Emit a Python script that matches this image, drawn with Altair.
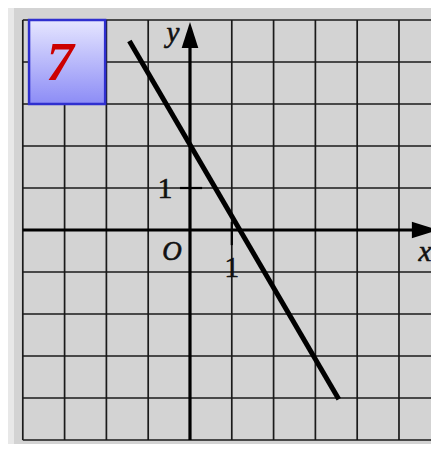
import altair as alt
import pandas as pd

# ---- data ----
grid_x = [-4, -3, -2, -1, 1, 2, 3, 4, 5]          # vertical grid lines
grid_y = [-5, -4, -3, -2, -1, 1, 2, 3, 4, 5]      # horizontal grid lines
line_x = [-1.45, 3.56]                            # the plotted straight line
line_y = [4.5, -4.03]
label_text = ["y", "x", "O"]
label_x = [-0.41, 5.62, -0.43]
label_y = [4.7, -0.52, -0.53]
label_size = [29, 29, 27]
tick_text = ["1", "1"]
tick_lx = [-0.6, 1.0]
tick_ly = [0.97, -0.9]
badge_text = ["7"]

# domains chosen so that one unit = one grid cell
XMIN, XMAX = -4.354, 5.766
YMIN, YMAX = -5.095, 5.286
W, H = 423, 436

xs = alt.Scale(domain=[XMIN, XMAX], nice=False, zero=False)
ys = alt.Scale(domain=[YMIN, YMAX], nice=False, zero=False)
X = lambda f: alt.X(f, type="quantitative", scale=xs, axis=None)
Y = lambda f: alt.Y(f, type="quantitative", scale=ys, axis=None)

# gray panel
panel = alt.Chart(pd.DataFrame({"x": [-4.21], "x2": [XMAX + 1], "y": [YMIN - 1], "y2": [YMAX + 1]})).mark_rect(
    color="#d3d3d3"
).encode(x=X("x"), x2="x2", y=Y("y"), y2="y2")

vgrid = alt.Chart(pd.DataFrame({"x": grid_x, "y": [-5] * len(grid_x), "y2": [5] * len(grid_x)})).mark_rule(
    color="#1a1a1a", strokeWidth=1.7
).encode(x=X("x"), y=Y("y"), y2="y2")

hgrid = alt.Chart(pd.DataFrame({"y": grid_y, "x": [-4] * len(grid_y), "x2": [XMAX + 1] * len(grid_y)})).mark_rule(
    color="#1a1a1a", strokeWidth=1.7
).encode(y=Y("y"), x=X("x"), x2="x2")

# axes
xaxis = alt.Chart(pd.DataFrame({"y": [0], "x": [-4], "x2": [5.5]})).mark_rule(
    color="#000000", strokeWidth=3.2
).encode(y=Y("y"), x=X("x"), x2="x2")
yaxis = alt.Chart(pd.DataFrame({"x": [0], "y": [-5], "y2": [4.6]})).mark_rule(
    color="#000000", strokeWidth=3.2
).encode(x=X("x"), y=Y("y"), y2="y2")

# arrow heads
yarrow = alt.Chart(pd.DataFrame({"x": [0], "y": [4.95]})).mark_point(
    shape="M0,0 L-0.32,1 L0.32,1 Z", size=2704, filled=True, color="#000000", opacity=1
).encode(x=X("x"), y=Y("y"))
xarrow = alt.Chart(pd.DataFrame({"x": [5.93], "y": [0]})).mark_point(
    shape="M0,0 L-1,-0.32 L-1,0.32 Z", size=2704, filled=True, color="#000000", opacity=1
).encode(x=X("x"), y=Y("y"))

# tick marks at 1
ytick = alt.Chart(pd.DataFrame({"y": [1], "x": [-0.24], "x2": [0.29]})).mark_rule(
    color="#000000", strokeWidth=2.2
).encode(y=Y("y"), x=X("x"), x2="x2")
xtick = alt.Chart(pd.DataFrame({"x": [1], "y": [0.19], "y2": [-0.36]})).mark_rule(
    color="#000000", strokeWidth=2.2
).encode(x=X("x"), y=Y("y"), y2="y2")

# the straight line
line = alt.Chart(pd.DataFrame({"x": line_x, "y": line_y})).mark_line(
    color="#000000", strokeWidth=5, strokeCap="butt"
).encode(x=X("x"), y=Y("y"))

labels = alt.Chart(pd.DataFrame({"t": label_text, "x": label_x, "y": label_y, "s": label_size})).mark_text(
    font="Liberation Serif", fontStyle="italic", color="#111111", stroke="#111111", strokeWidth=0.6,
    baseline="middle", align="center"
).encode(x=X("x"), y=Y("y"), text="t", size=alt.Size("s:Q", scale=None, legend=None))

ticklabels = alt.Chart(pd.DataFrame({"t": tick_text, "x": tick_lx, "y": tick_ly})).mark_text(
    font="Liberation Serif", fontSize=29, color="#111111", stroke="#111111", strokeWidth=0.7,
    baseline="middle", align="center"
).encode(x=X("x"), y=Y("y"), text="t")

# badge "7"
badge = alt.Chart(pd.DataFrame({"x": [-3.85], "x2": [-2.03], "y": [3.0], "y2": [5.0]})).mark_rect(
    color=alt.Gradient(
        gradient="linear",
        stops=[alt.GradientStop(color="#e6e6ff", offset=0), alt.GradientStop(color="#8c8cf6", offset=1)],
        x1=0, x2=0, y1=0, y2=1,
    ),
    stroke="#2f2fcf", strokeWidth=2.5,
).encode(x=X("x"), x2="x2", y=Y("y"), y2="y2")

badge_t = alt.Chart(pd.DataFrame({"t": badge_text, "x": [-3.11], "y": [3.97]})).mark_text(
    font="Liberation Serif", fontWeight="bold", fontStyle="italic", fontSize=55, color="#cc0000",
    baseline="middle", align="center"
).encode(x=X("x"), y=Y("y"), text="t")

chart = alt.layer(
    panel, vgrid, hgrid, xaxis, yaxis, yarrow, xarrow, ytick, xtick, line, labels, ticklabels, badge, badge_t
).properties(
    width=W, height=H, autosize=alt.AutoSizeParams(type="none"), padding=0, background="#e8e8e8"
).configure_view(stroke=None)

chart.save("out.html", embed_options={"renderer": "svg", "actions": False})
